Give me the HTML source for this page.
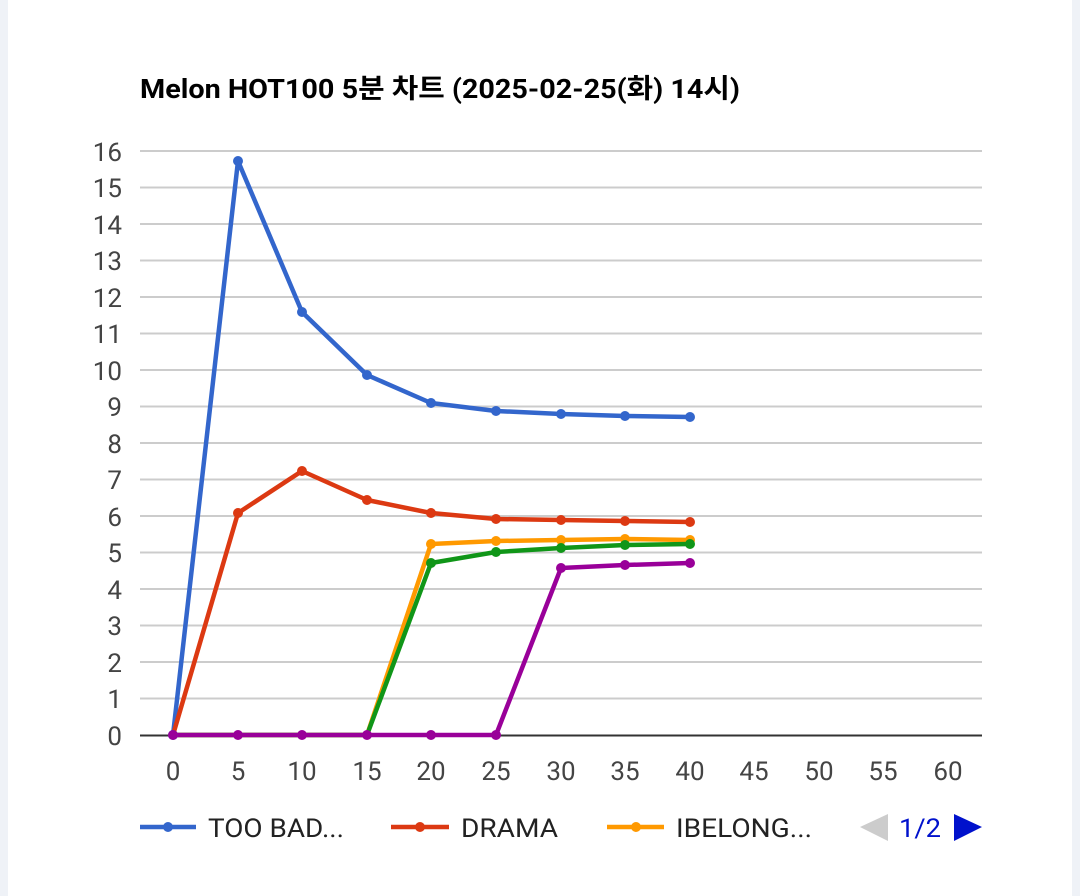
<!DOCTYPE html>
<html><head><meta charset="utf-8"><style>
html,body{margin:0;padding:0;background:#fff;}
body{width:1080px;height:896px;overflow:hidden;position:relative;}
</style></head><body>
<div style="position:absolute;left:0;top:0;width:8px;height:896px;background:#eff2f7"></div>
<div style="position:absolute;right:0;top:0;width:8px;height:896px;background:#eff2f7"></div>
<svg width="1080" height="896" style="position:absolute;left:0;top:0" font-family="Roboto,'Liberation Sans','Noto Sans CJK KR',sans-serif">
<text x="140" y="98" font-size="27" font-weight="bold" fill="#000" textLength="600" lengthAdjust="spacingAndGlyphs">Melon HOT100 5분 차트 (2025-02-25(화) 14시)</text>
<g stroke="#cccccc" stroke-width="2">
<line x1="140" x2="982" y1="151" y2="151"/><line x1="140" x2="982" y1="187.5" y2="187.5"/>
<line x1="140" x2="982" y1="224" y2="224"/><line x1="140" x2="982" y1="260.5" y2="260.5"/>
<line x1="140" x2="982" y1="297" y2="297"/><line x1="140" x2="982" y1="333.5" y2="333.5"/>
<line x1="140" x2="982" y1="370" y2="370"/><line x1="140" x2="982" y1="406.5" y2="406.5"/>
<line x1="140" x2="982" y1="443" y2="443"/><line x1="140" x2="982" y1="479.5" y2="479.5"/>
<line x1="140" x2="982" y1="516" y2="516"/><line x1="140" x2="982" y1="552.5" y2="552.5"/>
<line x1="140" x2="982" y1="589" y2="589"/><line x1="140" x2="982" y1="625.5" y2="625.5"/>
<line x1="140" x2="982" y1="662" y2="662"/><line x1="140" x2="982" y1="698.5" y2="698.5"/>
</g>
<line x1="140" x2="982" y1="735.5" y2="735.5" stroke="#333" stroke-width="2"/>
<g font-size="26" fill="#444" text-anchor="end">
<text x="122" y="161">16</text><text x="122" y="197">15</text><text x="122" y="234">14</text><text x="122" y="270">13</text>
<text x="122" y="307">12</text><text x="122" y="343">11</text><text x="122" y="380">10</text><text x="122" y="416">9</text>
<text x="122" y="453">8</text><text x="122" y="489">7</text><text x="122" y="526">6</text><text x="122" y="562">5</text>
<text x="122" y="599">4</text><text x="122" y="635">3</text><text x="122" y="672">2</text><text x="122" y="708">1</text>
<text x="122" y="745">0</text>
</g>
<g font-size="26" fill="#444" text-anchor="middle">
<text x="173" y="780">0</text><text x="238" y="780">5</text><text x="302" y="780">10</text><text x="367" y="780">15</text>
<text x="431" y="780">20</text><text x="496" y="780">25</text><text x="561" y="780">30</text><text x="625" y="780">35</text>
<text x="690" y="780">40</text><text x="754" y="780">45</text><text x="819" y="780">50</text><text x="883" y="780">55</text>
<text x="948" y="780">60</text>
</g>
<g fill="none" stroke-width="4.5" stroke-linejoin="round">
<polyline stroke="#3366cc" points="173,735 238,161 302,312 367,375 431,403 496,411 561,414 625,416 690,417"/>
<polyline stroke="#dc3912" points="173,735 238,513 302,471 367,500 431,513 496,519 561,520 625,521 690,522"/>
<polyline stroke="#ff9900" points="173,735 238,735 302,735 367,735 431,544 496,541 561,540 625,539 690,540"/>
<polyline stroke="#109618" points="173,735 238,735 302,735 367,735 431,563 496,552 561,548 625,545 690,544"/>
<polyline stroke="#990099" points="173,735 238,735 302,735 367,735 431,735 496,735 561,568 625,565 690,563"/>
</g>
<g fill="#3366cc"><circle cx="173" cy="735" r="5"/><circle cx="238" cy="161" r="5"/><circle cx="302" cy="312" r="5"/><circle cx="367" cy="375" r="5"/><circle cx="431" cy="403" r="5"/><circle cx="496" cy="411" r="5"/><circle cx="561" cy="414" r="5"/><circle cx="625" cy="416" r="5"/><circle cx="690" cy="417" r="5"/></g>
<g fill="#dc3912"><circle cx="238" cy="513" r="5"/><circle cx="302" cy="471" r="5"/><circle cx="367" cy="500" r="5"/><circle cx="431" cy="513" r="5"/><circle cx="496" cy="519" r="5"/><circle cx="561" cy="520" r="5"/><circle cx="625" cy="521" r="5"/><circle cx="690" cy="522" r="5"/></g>
<g fill="#ff9900"><circle cx="431" cy="544" r="5"/><circle cx="496" cy="541" r="5"/><circle cx="561" cy="540" r="5"/><circle cx="625" cy="539" r="5"/><circle cx="690" cy="540" r="5"/></g>
<g fill="#109618"><circle cx="431" cy="563" r="5"/><circle cx="496" cy="552" r="5"/><circle cx="561" cy="548" r="5"/><circle cx="625" cy="545" r="5"/><circle cx="690" cy="544" r="5"/></g>
<g fill="#990099"><circle cx="173" cy="735" r="5"/><circle cx="238" cy="735" r="5"/><circle cx="302" cy="735" r="5"/><circle cx="367" cy="735" r="5"/><circle cx="431" cy="735" r="5"/><circle cx="496" cy="735" r="5"/><circle cx="561" cy="568" r="5"/><circle cx="625" cy="565" r="5"/><circle cx="690" cy="563" r="5"/></g>
<g stroke-width="4.5">
<line x1="140" x2="196" y1="827" y2="827" stroke="#3366cc"/><circle cx="168" cy="827" r="5" fill="#3366cc"/>
<line x1="391" x2="449" y1="827" y2="827" stroke="#dc3912"/><circle cx="420" cy="827" r="5" fill="#dc3912"/>
<line x1="607" x2="664" y1="827" y2="827" stroke="#ff9900"/><circle cx="636" cy="827" r="5" fill="#ff9900"/>
</g>
<g font-size="26" fill="#222">
<text x="208" y="837" textLength="136" lengthAdjust="spacingAndGlyphs">TOO BAD...</text>
<text x="461" y="837" textLength="97" lengthAdjust="spacingAndGlyphs">DRAMA</text>
<text x="676" y="837" textLength="136" lengthAdjust="spacingAndGlyphs">IBELONG...</text>
</g>
<polygon points="888,814 888,841 860,827" fill="#cccccc"/>
<text x="899" y="837" font-size="26" fill="#0011cc" textLength="42" lengthAdjust="spacingAndGlyphs">1/2</text>
<polygon points="954,814 954,841 982,827" fill="#0011cc"/>
</svg>
</body></html>
